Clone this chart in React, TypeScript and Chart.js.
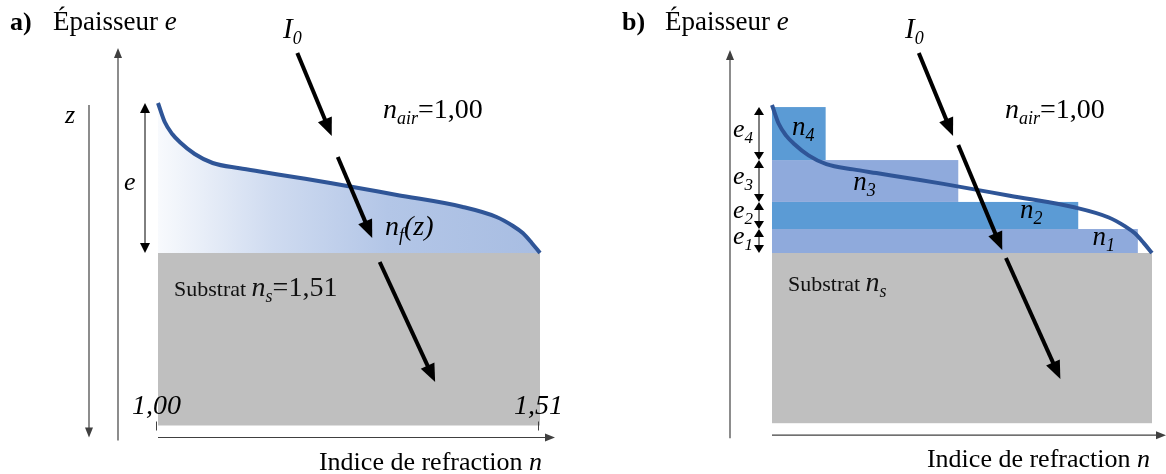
import React, { useEffect, useRef } from 'react';
import { Chart, registerables } from 'chart.js';
Chart.register(...registerables);

// ---------- data ----------
// refractive index profile n_f(z) of the graded film (z relative to film thickness e)
const profileN = [1.0, 1.009, 1.019, 1.029, 1.049, 1.073, 1.109, 1.14, 1.19, 1.23, 1.319, 1.407, 1.452, 1.474, 1.487, 1.499, 1.51];
const profileZ = [1.0, 0.873, 0.793, 0.74, 0.66, 0.6, 0.565, 0.54, 0.5, 0.467, 0.387, 0.307, 0.24, 0.18, 0.133, 0.067, 0.0];
const airIndex = 1.0;
const substrateIndex = 1.51;
const substrateDepth = -1.15;
const tickValues = [1.0, 1.51];
const tickLabels = ['1,00', '1,51'];
// discretised layers (panel b)
const layerNames = ['1', '2', '3', '4'];
const layerIndex = [1.491, 1.411, 1.25, 1.072];
const layerBottom = [0, 0.162, 0.345, 0.628];
const layerTop = [0.162, 0.345, 0.628, 0.986];
const layerLabelN = [1.43, 1.333, 1.109, 1.027];
const layerLabelZ = [0.054, 0.236, 0.426, 0.797];
// incident / refracted ray I0 (segments, n and z)
const rayASegN = [[1.186, 1.232], [1.24, 1.286], [1.296, 1.37]];
const rayASegZ = [[1.333, 0.78], [0.64, 0.1], [-0.06, -0.86]];
const rayBSegN = [[1.197, 1.243], [1.25, 1.309], [1.314, 1.387]];
const rayBSegZ = [[1.351, 0.79], [0.73, 0.02], [-0.034, -0.851]];

// ---------- drawing helpers ----------
const FONT = '"Liberation Serif", "Times New Roman", serif';
const fnt = (size: number, style = '') =>
  `${style.includes('i') ? 'italic ' : ''}${style.includes('b') ? 'bold ' : ''}${size}px ${FONT}`;

type Part = [string, number, string?, number?];
function rich(ctx: CanvasRenderingContext2D, x: number, y: number, parts: Part[], align = 'left', color = '#000') {
  ctx.save();
  ctx.fillStyle = color;
  ctx.textBaseline = 'alphabetic';
  ctx.textAlign = 'left';
  let total = 0;
  for (const [t, s, st] of parts) {
    ctx.font = fnt(s, st || '');
    total += ctx.measureText(t).width;
  }
  let cx = align === 'right' ? x - total : align === 'center' ? x - total / 2 : x;
  for (const [t, s, st, dy] of parts) {
    ctx.font = fnt(s, st || '');
    ctx.fillText(t, cx, y + (dy || 0));
    cx += ctx.measureText(t).width;
  }
  ctx.restore();
}

function head(ctx: CanvasRenderingContext2D, x1: number, y1: number, x2: number, y2: number, hl: number, hw: number) {
  const a = Math.atan2(y2 - y1, x2 - x1);
  const bx = x2 - hl * Math.cos(a);
  const by = y2 - hl * Math.sin(a);
  ctx.beginPath();
  ctx.moveTo(x2, y2);
  ctx.lineTo(bx + (hw / 2) * Math.sin(a), by - (hw / 2) * Math.cos(a));
  ctx.lineTo(bx - (hw / 2) * Math.sin(a), by + (hw / 2) * Math.cos(a));
  ctx.closePath();
  ctx.fill();
  return [bx + Math.cos(a), by + Math.sin(a)];
}

function arrow(ctx: CanvasRenderingContext2D, x1: number, y1: number, x2: number, y2: number, lw: number, hl: number, hw: number, color: string) {
  ctx.save();
  ctx.strokeStyle = color;
  ctx.fillStyle = color;
  ctx.lineWidth = lw;
  const [bx, by] = head(ctx, x1, y1, x2, y2, hl, hw);
  ctx.beginPath();
  ctx.moveTo(x1, y1);
  ctx.lineTo(bx, by);
  ctx.stroke();
  ctx.restore();
}

function dblArrow(ctx: CanvasRenderingContext2D, x: number, y1: number, y2: number, lw: number, hl: number, hw: number, color: string) {
  ctx.save();
  ctx.strokeStyle = color;
  ctx.fillStyle = color;
  ctx.lineWidth = lw;
  head(ctx, x, y2, x, y1, hl, hw);
  head(ctx, x, y1, x, y2, hl, hw);
  ctx.beginPath();
  ctx.moveTo(x, y1 + hl - 1);
  ctx.lineTo(x, y2 - hl + 1);
  ctx.stroke();
  ctx.restore();
}

function drawRay(chart: any, segN: number[][], segZ: number[][]) {
  const { ctx, scales } = chart;
  segN.forEach((ns, i) => {
    arrow(
      ctx,
      scales.x.getPixelForValue(ns[0]),
      scales.y.getPixelForValue(segZ[i][0]),
      scales.x.getPixelForValue(ns[1]),
      scales.y.getPixelForValue(segZ[i][1]),
      4,
      18,
      15,
      '#000'
    );
  });
}

const AXIS = '#404040';
const GRAY = '#bfbfbf';
const CURVE = '#2f5597';
const LIGHT = '#8faadc';
const MID = '#5b9bd5';

function substrate(chart: any) {
  const { ctx, scales } = chart;
  const x0 = scales.x.getPixelForValue(airIndex);
  const x1 = scales.x.getPixelForValue(substrateIndex);
  const y0 = scales.y.getPixelForValue(0);
  const y1 = scales.y.getPixelForValue(substrateDepth);
  ctx.save();
  ctx.fillStyle = GRAY;
  ctx.fillRect(x0, y0, x1 - x0, y1 - y0);
  ctx.restore();
}

// ---------- panel plugins ----------
const panelA = {
  id: 'panelA',
  beforeDatasetsDraw(chart: any) {
    substrate(chart);
  },
  afterDatasetsDraw(chart: any) {
    const { ctx, chartArea, scales } = chart;
    const { left: L, right: R, top: T, bottom: B } = chartArea;
    const axisY = scales.y.getPixelForValue(substrateDepth) + 12;
    drawRay(chart, rayASegN, rayASegZ);
    // thickness axis
    arrow(ctx, L - 40, axisY + 3, L - 40, T - 55, 1.2, 10, 8, AXIS);
    // z axis (downwards)
    arrow(ctx, L - 69, T + 2, L - 69, axisY, 1.2, 10, 8, AXIS);
    rich(ctx, L - 93, T + 20, [['z', 26, 'i']]);
    // e double arrow
    dblArrow(ctx, L - 13, scales.y.getPixelForValue(1), scales.y.getPixelForValue(0), 1, 10, 10, '#000');
    rich(ctx, L - 34, T + 87, [['e', 26, 'i']]);
    // index axis
    arrow(ctx, L, axisY, R + 15, axisY, 1.2, 10, 8, AXIS);
    ctx.save();
    ctx.strokeStyle = AXIS;
    ctx.lineWidth = 1;
    tickValues.forEach((v, i) => {
      const px = Math.round(scales.x.getPixelForValue(v)) - 1.5;
      ctx.beginPath();
      ctx.moveTo(px, axisY - 16);
      ctx.lineTo(px, axisY - 7);
      ctx.stroke();
      rich(ctx, px, axisY - 24, [[tickLabels[i], 28, 'i']], 'center');
    });
    ctx.restore();
    rich(ctx, R + 2, axisY + 32, [['Indice de refraction ', 26], ['n', 26, 'i']], 'right');
    // titles and labels
    rich(ctx, L - 148, 30, [['a)', 26, 'b']]);
    rich(ctx, L - 105, 30, [['Épaisseur ', 27], ['e', 27, 'i']]);
    rich(ctx, L + 125, 38, [['I', 29, 'i'], ['0', 18, 'i', 6]]);
    rich(ctx, L + 225, T + 15, [['n', 28, 'i'], ['air', 18, 'i', 6], ['=1,00', 28]]);
    rich(ctx, L + 227, B - 18, [['n', 28, 'i'], ['f', 18, 'i', 6], ['(z)', 28, 'i']]);
    rich(ctx, L + 16, B + 43, [['Substrat ', 22], ['n', 28, 'i'], ['s', 18, 'i', 6], ['=1,51', 28]], 'left', '#111');
  },
};

const panelB = {
  id: 'panelB',
  beforeDatasetsDraw(chart: any) {
    const { ctx, scales } = chart;
    substrate(chart);
    ctx.save();
    layerIndex.forEach((n, i) => {
      const x0 = scales.x.getPixelForValue(airIndex);
      const x1 = scales.x.getPixelForValue(n);
      const y0 = scales.y.getPixelForValue(layerTop[i]);
      const y1 = scales.y.getPixelForValue(layerBottom[i]);
      ctx.fillStyle = i % 2 === 0 ? LIGHT : MID;
      ctx.fillRect(x0, y0, x1 - x0, y1 - y0);
    });
    ctx.restore();
  },
  afterDatasetsDraw(chart: any) {
    const { ctx, chartArea, scales } = chart;
    const { left: L, right: R, top: T } = chartArea;
    const axisY = scales.y.getPixelForValue(substrateDepth) + 12;
    // layer labels
    layerNames.forEach((nm, i) => {
      rich(ctx, scales.x.getPixelForValue(layerLabelN[i]), scales.y.getPixelForValue(layerLabelZ[i]), [
        ['n', 27, 'i'],
        [nm, 18, 'i', 6],
      ]);
      const y0 = scales.y.getPixelForValue(layerTop[i]);
      const y1 = scales.y.getPixelForValue(layerBottom[i]);
      dblArrow(ctx, L - 13, y0, y1, 1, 8, 10, '#000');
      rich(ctx, L - 39, (y0 + y1) / 2 + 3, [['e', 26, 'i'], [nm, 17, 'i', 6]]);
    });
    drawRay(chart, rayBSegN, rayBSegZ);
    // axes
    arrow(ctx, L - 42, axisY + 3, L - 42, T - 55, 1.2, 10, 8, AXIS);
    arrow(ctx, L, axisY, R + 14, axisY, 1.2, 10, 8, AXIS);
    rich(ctx, R - 2, axisY + 32, [['Indice de refraction ', 26], ['n', 26, 'i']], 'right');
    rich(ctx, L - 150, 30, [['b)', 26, 'b']]);
    rich(ctx, L - 107, 30, [['Épaisseur ', 27], ['e', 27, 'i']]);
    rich(ctx, L + 133, 38, [['I', 29, 'i'], ['0', 18, 'i', 6]]);
    rich(ctx, L + 233, T + 13, [['n', 28, 'i'], ['air', 18, 'i', 6], ['=1,00', 28]]);
    rich(ctx, L + 16, T + 186, [['Substrat ', 22], ['n', 28, 'i'], ['s', 18, 'i', 6]], 'left', '#111');
  },
};

function makeConfig(withFill: boolean, padding: any, plugin: any): any {
  return {
    type: 'line',
    data: {
      datasets: [
        {
          data: profileN.map((n, i) => ({ x: n, y: profileZ[i] })),
          borderColor: CURVE,
          borderWidth: 4,
          pointRadius: 0,
          cubicInterpolationMode: 'monotone',
          clip: false,
          fill: withFill ? 'origin' : false,
          backgroundColor: (c: any) => {
            const ch = c.chart;
            const ca = ch.chartArea;
            if (!ca) return 'rgba(0,0,0,0)';
            const g = ch.ctx.createLinearGradient(ca.left, 0, ca.right, 0);
            g.addColorStop(0, '#f8fafd');
            g.addColorStop(0.3, '#cfdbf0');
            g.addColorStop(0.6, '#b3c6e7');
            g.addColorStop(1, '#a8bde2');
            return g;
          },
        },
      ],
    },
    options: {
      animation: false,
      responsive: false,
      events: [],
      layout: { padding },
      scales: {
        x: { type: 'linear', min: airIndex, max: substrateIndex, display: false },
        y: { type: 'linear', min: 0, max: 1, display: false },
      },
      plugins: { legend: { display: false }, tooltip: { enabled: false } },
    },
    plugins: [plugin],
  };
}

function Panel({ left, config }: { left: number; config: () => any }) {
  const ref = useRef<HTMLCanvasElement | null>(null);
  useEffect(() => {
    const chart = new Chart(ref.current as HTMLCanvasElement, config());
    return () => chart.destroy();
  }, []);
  return (
    <canvas
      ref={ref}
      width={583}
      height={474}
      style={{ position: 'absolute', left, top: 0, width: 583, height: 474 }}
    />
  );
}

export default function App() {
  return (
    <div style={{ position: 'absolute', left: 0, top: 0, width: 1166, height: 474, background: '#fff' }}>
      <Panel left={0} config={() => makeConfig(true, { left: 158, right: 43, top: 103, bottom: 221 }, panelA)} />
      <Panel left={583} config={() => makeConfig(false, { left: 189, right: 14, top: 105, bottom: 221 }, panelB)} />
    </div>
  );
}
